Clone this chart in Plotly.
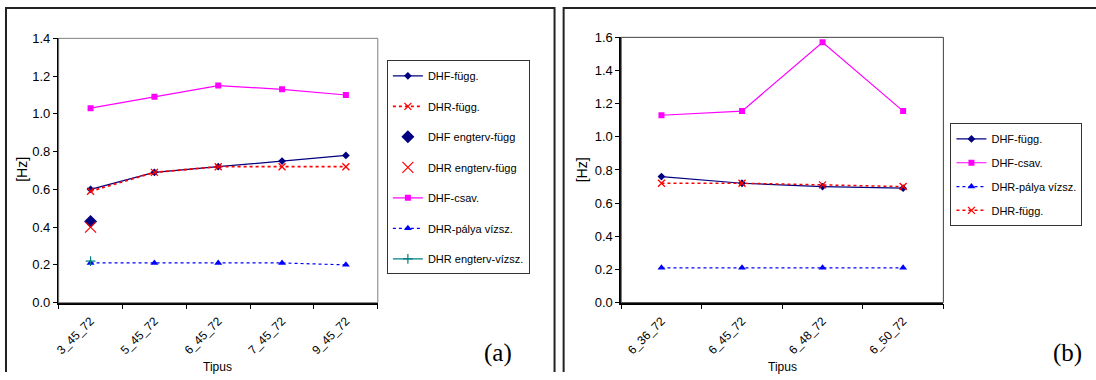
import plotly.graph_objects as go

W, H = 1096, 380
# the page (figure + 8px body margin) is captured and fitted to 1096x380;
# reference pixel coordinates are converted to figure coordinates below
SX, SY, M = (W + 16) / W, (H + 16) / H, 8

# ---------------- data ----------------
cats_a = ["3_45_72", "5_45_72", "6_45_72", "7_45_72", "9_45_72"]
dhf_fugg_a = [0.60, 0.69, 0.72, 0.75, 0.78]
dhr_fugg_a = [0.59, 0.69, 0.72, 0.72, 0.72]
dhf_engterv_fugg_a = [0.43, None, None, None, None]
dhr_engterv_fugg_a = [0.40, None, None, None, None]
dhf_csav_a = [1.03, 1.09, 1.15, 1.13, 1.10]
dhr_palya_vizsz_a = [0.21, 0.21, 0.21, 0.21, 0.20]
dhr_engterv_vizsz_a = [0.22, None, None, None, None]

cats_b = ["6_36_72", "6_45_72", "6_48_72", "6_50_72"]
dhf_fugg_b = [0.76, 0.72, 0.70, 0.69]
dhf_csav_b = [1.13, 1.155, 1.57, 1.155]
dhr_palya_vizsz_b = [0.21, 0.21, 0.21, 0.21]
dhr_fugg_b = [0.72, 0.72, 0.71, 0.70]

yticks_a = [0.0, 0.2, 0.4, 0.6, 0.8, 1.0, 1.2, 1.4]
yticks_b = [0.0, 0.2, 0.4, 0.6, 0.8, 1.0, 1.2, 1.4, 1.6]

NAVY = "#000080"
RED = "#FF0000"
MAG = "#FF00FF"
BLUE = "#0000FF"
TEAL = "#008080"
FONT = "Liberation Sans, Arial, sans-serif"
SERIF = "Liberation Serif, Times New Roman, serif"

def fx(x):
    return min(max(x * SX - M, 1), W)

def fy(y):
    return min(max(y * SY - M, 1), H)

def px(x):
    return fx(x) / W

def py(y):
    return 1 - fy(y) / H

fig = go.Figure()

def add(x, y, name, color, dash, symbol, msize, mode, xa, ya, legend, lw=1.2, mline=None):
    marker = dict(symbol=symbol, size=msize, color=color)
    if mline is not None:
        marker["line"] = dict(color=color, width=mline)
    fig.add_trace(go.Scatter(
        x=x, y=y, name=name, mode=mode,
        line=dict(color=color, width=lw, dash=dash),
        marker=marker, xaxis=xa, yaxis=ya, legend=legend,
        legendgroup=name + legend, connectgaps=False,
    ))

# ---------------- panel (a) ----------------
add(cats_a, dhf_fugg_a, "DHF-függ.", NAVY, "solid", "diamond", 6, "lines+markers", "x", "y", "legend")
add(cats_a, dhr_fugg_a, "DHR-függ.", RED, "dot", "x-thin-open", 7, "lines+markers", "x", "y", "legend", lw=1.8, mline=1.3)
add(cats_a, dhf_engterv_fugg_a, "DHF engterv-függ", NAVY, "solid", "diamond", 10, "markers", "x", "y", "legend")
add(cats_a, dhr_engterv_fugg_a, "DHR engterv-függ", RED, "solid", "x-thin-open", 11, "markers", "x", "y", "legend", mline=1.2)
add(cats_a, dhf_csav_a, "DHF-csav.", MAG, "solid", "square", 6, "lines+markers", "x", "y", "legend")
add(cats_a, dhr_palya_vizsz_a, "DHR-pálya vízsz.", BLUE, "dot", "triangle-up", 7, "lines+markers", "x", "y", "legend")
add(cats_a, dhr_engterv_vizsz_a, "DHR engterv-vízsz.", TEAL, "solid", "cross-thin-open", 7, "lines+markers", "x", "y", "legend", mline=1.2)

# ---------------- panel (b) ----------------
add(cats_b, dhf_fugg_b, "DHF-függ.", NAVY, "solid", "diamond", 6, "lines+markers", "x2", "y2", "legend2")
add(cats_b, dhf_csav_b, "DHF-csav.", MAG, "solid", "square", 6, "lines+markers", "x2", "y2", "legend2")
add(cats_b, dhr_palya_vizsz_b, "DHR-pálya vízsz.", BLUE, "dot", "triangle-up", 7, "lines+markers", "x2", "y2", "legend2")
add(cats_b, dhr_fugg_b, "DHR-függ.", RED, "dot", "x-thin-open", 7, "lines+markers", "x2", "y2", "legend2", lw=1.5, mline=1.3)

xcommon = dict(
    type="category", tickson="boundaries", ticks="outside", ticklen=5,
    tickcolor="black", showline=True, linecolor="black", linewidth=1.5,
    showgrid=False, zeroline=False, tickangle=-45, ticklabelstandoff=5,
    tickfont=dict(family=FONT, size=12, color="black"),
)
ycommon = dict(
    ticks="outside", ticklen=4, tickcolor="black", showline=True,
    linecolor="black", linewidth=1.5, showgrid=False, zeroline=False,
    tickformat=".1f", tickfont=dict(family=FONT, size=13, color="black"),
)

legcommon = dict(
    xanchor="left", yanchor="top",
    bgcolor="white", bordercolor="#333333", borderwidth=1,
    font=dict(family=FONT, size=11, color="black"),
    traceorder="grouped", itemwidth=30,
)

fig.update_layout(
    width=W, height=H, margin=dict(l=0, r=0, t=0, b=0),
    paper_bgcolor="white", plot_bgcolor="white",
    xaxis=dict(xcommon, domain=[px(61), px(377)], anchor="y",
               range=[-0.5, len(cats_a) - 0.5]),
    yaxis=dict(ycommon, domain=[py(303), py(39)], anchor="x",
               range=[0, 1.4], tickvals=yticks_a),
    xaxis2=dict(xcommon, domain=[px(618), px(937)], anchor="y2",
                range=[-0.5, len(cats_b) - 0.5]),
    yaxis2=dict(ycommon, domain=[py(303), py(38)], anchor="x2",
                range=[0, 1.6], tickvals=yticks_b),
    legend=dict(legcommon, x=px(386), y=py(61), tracegroupgap=11.5),
    legend2=dict(legcommon, x=px(944), y=py(124), tracegroupgap=4.8),
    showlegend=True,
)

shapes = [
    dict(type="rect", xref="paper", yref="paper", x0=px(61), x1=px(377), y0=py(303), y1=py(39),
         line=dict(color="#808080", width=1)),
    dict(type="rect", xref="paper", yref="paper", x0=px(618), x1=px(937), y0=py(303), y1=py(38),
         line=dict(color="#404040", width=1)),
    dict(type="path", xref="paper", yref="paper",
         path=f"M {px(8)},{py(400)} L {px(8)},{py(6)} L {px(552)},{py(6)} L {px(552)},{py(400)}",
         line=dict(color="#222222", width=2)),
    dict(type="path", xref="paper", yref="paper",
         path=f"M {px(561)},{py(400)} L {px(561)},{py(5)} L {px(1200)},{py(5)}",
         line=dict(color="#222222", width=2)),
]
fig.update_layout(shapes=shapes)

def note(text, x, y, size, family, angle=0):
    fig.add_annotation(text=text, xref="paper", yref="paper", x=px(x), y=py(y),
                       xanchor="center", yanchor="middle", textangle=angle,
                       showarrow=False, font=dict(family=family, size=size, color="black"))

for xc in (218, 778):
    note("Tipus", xc, 367, 12, FONT)
for xc in (25, 580):
    note("[Hz]", xc, 170, 14, FONT, angle=-90)

note("(a)", 496, 353, 25, SERIF)
note("(b)", 1060, 353, 25, SERIF)

fig.write_html("out.html")
